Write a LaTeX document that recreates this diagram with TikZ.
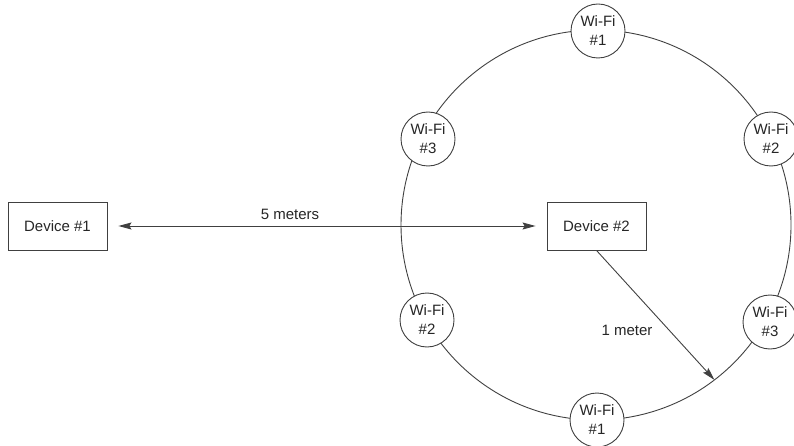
\documentclass[tikz,border=0pt]{standalone}
\usepackage{fontspec}
\setmainfont{Liberation Sans}
\usetikzlibrary{arrows.meta,calc}

\begin{document}
\begin{tikzpicture}[x=1pt,y=-1pt,
  line/.style={draw=black!75, line width=0.9pt},
  txt/.style={text=black!85, font=\fontsize{15}{19}\selectfont},
  device/.style={line, txt, rectangle, minimum width=99pt, minimum height=48pt, inner sep=0pt},
  wifi/.style={line, txt, circle, fill=white, minimum size=54pt, inner sep=0pt, align=center},
  arrowtip/.tip={Stealth[length=13pt,width=7pt,inset=2pt]}
]
\useasboundingbox (0,0) rectangle (794,446);

% ring of access points around the second device
\coordinate (C) at (596,225);
\draw[line] (C) circle[radius=195pt];

\node[device] (d1) at (57.5,226) {Device \#1};
\node[device] (d2) at (596.5,226) {Device \#2};

\node[wifi] (wt1) at (598,31)  {Wi-Fi\\\#1};
\node[wifi] (wl3) at (428,139) {Wi-Fi\\\#3};
\node[wifi] (wr2) at (771,139) {Wi-Fi\\\#2};
\node[wifi] (wl2) at (427,320) {Wi-Fi\\\#2};
\node[wifi] (wr3) at (770,322) {Wi-Fi\\\#3};
\node[wifi] (wb1) at (597,420) {Wi-Fi\\\#1};

% distance between the devices
\draw[line, arrowtip-arrowtip] ([xshift=11pt]d1.east) -- ([xshift=-11pt]d2.west);
\node[txt] (l5) at (290,214) {5 meters};

% radius of the ring
\coordinate (R) at ($(C)+(52.6:195)$);
\draw[line, -arrowtip] (d2.south) -- (R);
\node[txt] (l1) at (627,330) {1 meter};
\end{tikzpicture}
\end{document}
